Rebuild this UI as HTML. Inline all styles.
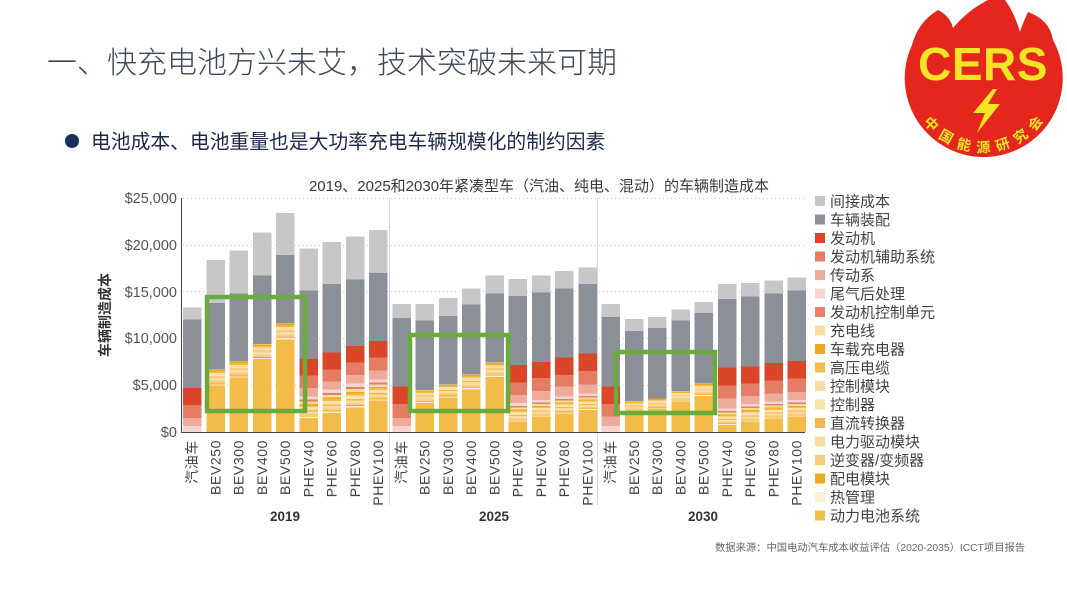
<!DOCTYPE html>
<html><head><meta charset="utf-8">
<style>
html,body{margin:0;padding:0;background:#fff;}
body{width:1067px;height:600px;overflow:hidden;position:relative;}
svg{position:absolute;left:0;top:0;}
text{font-family:"Liberation Sans","Noto Sans CJK SC",sans-serif;}
</style></head>
<body>
<svg id="main" width="1067" height="600" viewBox="0 0 1067 600" xmlns="http://www.w3.org/2000/svg">
  <!-- titles -->
  <text x="47" y="73" font-size="30" fill="#3e4757" font-weight="300" style="font-family:'Liberation Sans','Noto Sans CJK SC',sans-serif;">一、快充电池方兴未艾，技术突破未来可期</text>
  <circle cx="72" cy="141" r="7" fill="#1b2f5e"/>
  <text x="91" y="148.5" font-size="19.8" fill="#1c2a48">电池成本、电池重量也是大功率充电车辆规模化的制约因素</text>
  <text x="539" y="191" font-size="15" fill="#3a3a3a" text-anchor="middle">2019、2025和2030年紧凑型车（汽油、纯电、混动）的车辆制造成本</text>

  <!-- gridlines -->
  <g stroke="#c9c9c9" stroke-width="1" stroke-dasharray="1,3">
    <line x1="183" y1="198.5" x2="805" y2="198.5"/>
    <line x1="183" y1="245.5" x2="805" y2="245.5"/>
    <line x1="183" y1="291.5" x2="805" y2="291.5"/>
    <line x1="183" y1="338.5" x2="805" y2="338.5"/>
    <line x1="183" y1="385.5" x2="805" y2="385.5"/>
  </g>
  <!-- separators -->
  <line x1="389.5" y1="198" x2="389.5" y2="505" stroke="#d6d6d6" stroke-width="1"/>
  <line x1="597.5" y1="198" x2="597.5" y2="505" stroke="#d6d6d6" stroke-width="1"/>

  <g id="bars" shape-rendering="crispEdges"></g>

  <!-- axes -->
  <line x1="181.5" y1="198" x2="181.5" y2="433" stroke="#444" stroke-width="1"/>
  <line x1="181" y1="432.5" x2="805" y2="432.5" stroke="#444" stroke-width="1"/>

  <!-- y tick labels -->
  <g font-size="14.5" fill="#555" text-anchor="end">
    <text x="177" y="203">$25,000</text>
    <text x="177" y="250">$20,000</text>
    <text x="177" y="297">$15,000</text>
    <text x="177" y="343">$10,000</text>
    <text x="177" y="390">$5,000</text>
    <text x="177" y="437">$0</text>
  </g>
  <text transform="translate(110,315) rotate(-90)" font-size="14" font-weight="bold" fill="#333" text-anchor="middle">车辆制造成本</text>

  <!-- x labels -->
  <g font-size="14" fill="#444" text-anchor="end" letter-spacing="0.6">
    <text transform="translate(197,440) rotate(-90)">汽油车</text>
    <text transform="translate(220.25,440) rotate(-90)">BEV250</text>
    <text transform="translate(243.5,440) rotate(-90)">BEV300</text>
    <text transform="translate(266.75,440) rotate(-90)">BEV400</text>
    <text transform="translate(290,440) rotate(-90)">BEV500</text>
    <text transform="translate(313.25,440) rotate(-90)">PHEV40</text>
    <text transform="translate(336.5,440) rotate(-90)">PHEV60</text>
    <text transform="translate(359.75,440) rotate(-90)">PHEV80</text>
    <text transform="translate(383,440) rotate(-90)">PHEV100</text>
    <text transform="translate(406.25,440) rotate(-90)">汽油车</text>
    <text transform="translate(429.5,440) rotate(-90)">BEV250</text>
    <text transform="translate(452.75,440) rotate(-90)">BEV300</text>
    <text transform="translate(476,440) rotate(-90)">BEV400</text>
    <text transform="translate(499.25,440) rotate(-90)">BEV500</text>
    <text transform="translate(522.5,440) rotate(-90)">PHEV40</text>
    <text transform="translate(545.75,440) rotate(-90)">PHEV60</text>
    <text transform="translate(569,440) rotate(-90)">PHEV80</text>
    <text transform="translate(592.25,440) rotate(-90)">PHEV100</text>
    <text transform="translate(615.5,440) rotate(-90)">汽油车</text>
    <text transform="translate(638.75,440) rotate(-90)">BEV250</text>
    <text transform="translate(662,440) rotate(-90)">BEV300</text>
    <text transform="translate(685.25,440) rotate(-90)">BEV400</text>
    <text transform="translate(708.5,440) rotate(-90)">BEV500</text>
    <text transform="translate(731.75,440) rotate(-90)">PHEV40</text>
    <text transform="translate(755,440) rotate(-90)">PHEV60</text>
    <text transform="translate(778.25,440) rotate(-90)">PHEV80</text>
    <text transform="translate(801.5,440) rotate(-90)">PHEV100</text>
  </g>
  <g font-size="13.5" font-weight="bold" fill="#333" text-anchor="middle">
    <text x="285" y="521">2019</text>
    <text x="494" y="521">2025</text>
    <text x="703" y="521">2030</text>
  </g>

  <!-- green boxes -->
  <g fill="none" stroke="#6aab3c" stroke-width="4.5">
    <rect x="207" y="297" width="98" height="114"/>
    <rect x="410" y="335" width="98" height="76"/>
    <rect x="616" y="352" width="99" height="61"/>
  </g>

  <text x="715" y="551" font-size="10.3" fill="#666">数据来源：中国电动汽车成本收益评估（2020-2035）ICCT项目报告</text>

  <!-- logo -->
  <g transform="translate(900,0)">
    <path d="M12,45 A79,79 0 1,0 153,40 Q150,20 128,12 Q122,25 120,32 Q114,12 105,0 L88,0 Q68,10 53,28 Q50,16 38,10 Q18,22 12,45 Z" fill="#e5261d"/>
    <text x="83" y="80" font-size="46" font-weight="bold" fill="#f3e526" text-anchor="middle" letter-spacing="0.5">CERS</text>
    <polygon points="93,89 73,113 85,113 77,133 100,104 88,104 97,89" fill="#f3e526"/>
    <defs><path id="arc" d="M10.1,90.9 A74,74 0 0,0 155.9,90.9"/></defs>
    <text font-size="14" font-weight="bold" fill="#f3e526" letter-spacing="7"><textPath href="#arc" startOffset="52%" text-anchor="middle">中国能源研究会</textPath></text>
  </g>
</svg>
<script>
(function(){
var NS="http://www.w3.org/2000/svg";
var Y0=432, SC=9.36;
function y(v){return Y0-v*SC;}
var LG='#c6c7c9',DG='#8b9098',RED='#dc4628',SAL='#e57c64',LSAL='#eeab9b',PP='#f7d5ce',ECU='#e4806a',BAT='#f3bb47',
TH='#fcefd6',PDU='#f0aa22',INV='#f6cc78',ED='#f9dca2',DC='#f2b84a',CTL='#fae2ae',CM='#f9dda3',HV='#f3bc4c',OBC='#f0a818',CAB='#f8dca0';
var data=[
['g',13.3,12.0,4.7,2.9,1.5,0.65],
['b',18.4,13.8,6.7,4.95],
['b',19.4,14.8,7.55,5.8],
['b',21.3,16.7,9.4,7.8],
['b',23.4,18.9,11.6,9.9],
['p',19.6,15.1,7.8,6.05,4.7,3.8,1.5],
['p',20.3,15.8,8.5,6.7,5.4,4.55,2.05],
['p',20.9,16.3,9.2,7.4,6.1,5.2,2.6],
['p',21.6,17.0,9.7,7.95,6.55,5.6,3.35],
['g',13.65,12.2,4.85,3.0,1.5,0.65],
['b',13.7,11.9,4.5,3.1],
['b',14.3,12.4,5.1,3.7],
['b',15.35,13.6,6.15,4.55],
['b',16.7,14.8,7.45,5.9],
['p',16.35,14.55,7.15,5.3,3.95,3.1,1.1],
['p',16.7,14.9,7.5,5.75,4.4,3.4,1.65],
['p',17.2,15.35,7.95,6.1,4.85,3.8,2.0],
['p',17.6,15.8,8.4,6.5,5.1,4.1,2.35],
['g',13.7,12.3,4.85,3.0,1.65,0.65],
['b',12.05,10.8,3.3,2.2],
['b',12.3,11.1,3.6,2.5],
['b',13.1,11.9,4.4,3.25],
['b',13.9,12.7,5.2,3.85],
['p',15.8,14.2,6.9,4.95,3.6,2.5,0.75],
['p',15.9,14.5,7.0,5.2,3.85,3.0,1.1],
['p',16.2,14.8,7.35,5.5,4.1,3.25,1.45],
['p',16.5,15.1,7.6,5.7,4.25,3.4,1.65]
];
var bgap=[[TH,.08],[PDU,.05],[INV,.15],[ED,.22],[DC,.06],[CTL,.12],[CM,.10],[HV,.08],[OBC,.10],[CAB,.04]];
var pgap=[[TH,.06],[PDU,.04],[INV,.08],[ED,.12],[DC,.06],[CTL,.15],[HV,.08],[OBC,.06],[CAB,.12],[ECU,.08],[PP,.15]];
var g=document.getElementById('bars');
function seg(x,a,b,c){
  if(b<=a) return;
  var r=document.createElementNS(NS,'rect');
  var y1=y(b), y2=y(a);
  r.setAttribute('x',x);r.setAttribute('width',18.5);
  r.setAttribute('y',y1.toFixed(2));r.setAttribute('height',(y2-y1).toFixed(2));
  r.setAttribute('fill',c);g.appendChild(r);
}
function gapSegs(x,lo,hi,arr){var cur=lo,span=hi-lo;arr.forEach(function(s){var n=cur+span*s[1];seg(x,cur,n,s[0]);cur=n;});}
data.forEach(function(d,i){
  var x=183+i*23.25;
  if(d[0]==='g'){
    var T=d[1],A=d[2],D=d[3],Rb=d[4],Sb=d[5],LS=d[6];
    seg(x,0,LS,PP);seg(x,LS,Sb,LSAL);seg(x,Sb,Rb,SAL);seg(x,Rb,D,RED);seg(x,D,A,DG);seg(x,A,T,LG);
  }else if(d[0]==='b'){
    var T=d[1],A=d[2],D=d[3],B=d[4];
    seg(x,0,B,BAT);gapSegs(x,B,D,bgap);seg(x,D,A,DG);seg(x,A,T,LG);
  }else{
    var T=d[1],A=d[2],D=d[3],Rb=d[4],Sb=d[5],Pb=d[6],B=d[7];
    seg(x,0,B,BAT);gapSegs(x,B,Pb,pgap);seg(x,Pb,Sb,LSAL);seg(x,Sb,Rb,SAL);seg(x,Rb,D,RED);seg(x,D,A,DG);seg(x,A,T,LG);
  }
});
})();
</script>
<svg width="1067" height="600" viewBox="0 0 1067 600" xmlns="http://www.w3.org/2000/svg" style="pointer-events:none">
  <g font-size="15" fill="#444">
    <rect x="815" y="196" width="10" height="10" fill="#c6c7c9"/><text x="830" y="206.5">间接成本</text>
    <rect x="815" y="214.5" width="10" height="10" fill="#8b9098"/><text x="830" y="225">车辆装配</text>
    <rect x="815" y="233" width="10" height="10" fill="#dc4628"/><text x="830" y="243.5">发动机</text>
    <rect x="815" y="251.5" width="10" height="10" fill="#e57c64"/><text x="830" y="262">发动机辅助系统</text>
    <rect x="815" y="270" width="10" height="10" fill="#eeab9b"/><text x="830" y="280.5">传动系</text>
    <rect x="815" y="288.5" width="10" height="10" fill="#f7d5ce"/><text x="830" y="299">尾气后处理</text>
    <rect x="815" y="307" width="10" height="10" fill="#e4806a"/><text x="830" y="317.5">发动机控制单元</text>
    <rect x="815" y="325.5" width="10" height="10" fill="#f8dca0"/><text x="830" y="336">充电线</text>
    <rect x="815" y="344" width="10" height="10" fill="#f0a818"/><text x="830" y="354.5">车载充电器</text>
    <rect x="815" y="362.5" width="10" height="10" fill="#f3bc4c"/><text x="830" y="373">高压电缆</text>
    <rect x="815" y="381" width="10" height="10" fill="#f9dda3"/><text x="830" y="391.5">控制模块</text>
    <rect x="815" y="399.5" width="10" height="10" fill="#fae2ae"/><text x="830" y="410">控制器</text>
    <rect x="815" y="418" width="10" height="10" fill="#f2b84a"/><text x="830" y="428.5">直流转换器</text>
    <rect x="815" y="436.5" width="10" height="10" fill="#f9dca2"/><text x="830" y="447">电力驱动模块</text>
    <rect x="815" y="455" width="10" height="10" fill="#f6cc78"/><text x="830" y="465.5">逆变器/变频器</text>
    <rect x="815" y="473.5" width="10" height="10" fill="#f0aa22"/><text x="830" y="484">配电模块</text>
    <rect x="815" y="492" width="10" height="10" fill="#fcefd6"/><text x="830" y="502.5">热管理</text>
    <rect x="815" y="510.5" width="10" height="10" fill="#f3bb47"/><text x="830" y="521">动力电池系统</text>
  </g>
</svg>
</body></html>
